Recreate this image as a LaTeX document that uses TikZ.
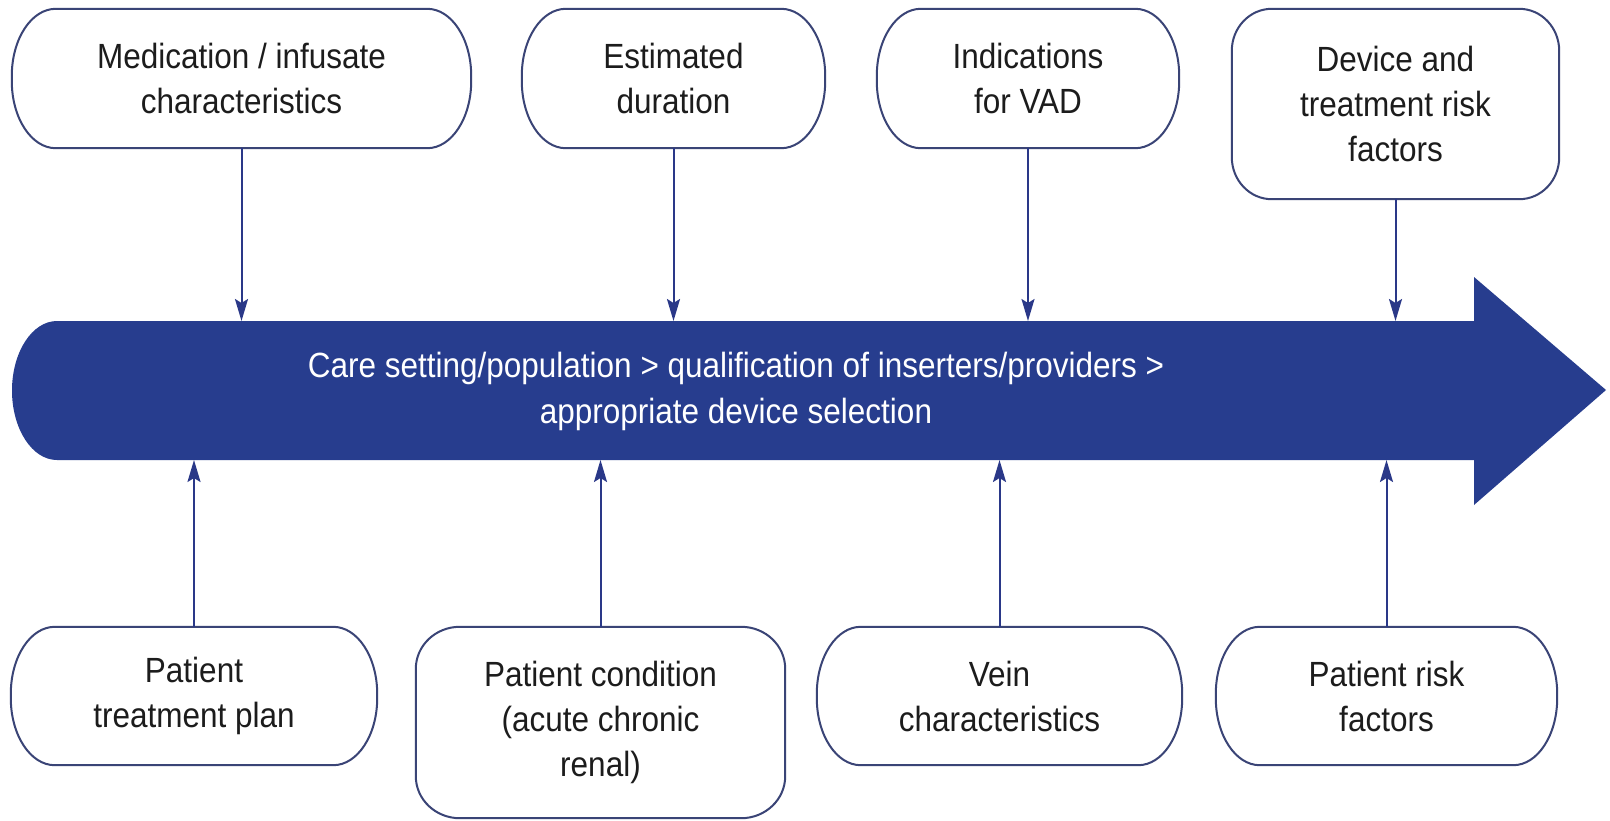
\documentclass[tikz,border=0pt]{standalone}
\usepackage{fontspec}
\setmainfont{Liberation Sans}[FakeStretch=0.9]
\usetikzlibrary{arrows.meta}
\definecolor{arrowblue}{RGB}{39,61,142}
\definecolor{boxblue}{RGB}{58,68,118}
\definecolor{connblue}{RGB}{42,56,136}
\definecolor{txtgray}{RGB}{28,28,28}
\tikzset{
  lbl/.style={rectangle, draw=none, inner sep=0pt, align=center, text=txtgray,
    font=\fontsize{35pt}{45pt}\selectfont},
  boxline/.style={draw=boxblue, line width=2pt, fill=white},
  conn/.style={draw=connblue, line width=2pt,
    -{Stealth[length=22pt, width=13pt, inset=4pt]}},
  maintext/.style={align=center, text=white, inner sep=0pt,
    font=\fontsize{35pt}{46pt}\selectfont}
}
\newcommand{\ebox}[3]{%
  \path[boxline] ([xshift=#2]#1.north west) -- ([xshift=-#2]#1.north east)
    arc[start angle=90,end angle=0,x radius=#2,y radius=#3]
    -- ([yshift=#3]#1.south east)
    arc[start angle=0,end angle=-90,x radius=#2,y radius=#3]
    -- ([xshift=#2]#1.south west)
    arc[start angle=270,end angle=180,x radius=#2,y radius=#3]
    -- ([yshift=-#3]#1.north west)
    arc[start angle=180,end angle=90,x radius=#2,y radius=#3] -- cycle;}
\begin{document}
\begin{tikzpicture}[x=1pt,y=1pt]
\useasboundingbox[fill=white] (0,0) rectangle (1610,-820);

% main arrow
\fill[arrowblue] (1474,-321) -- (57,-321)
  arc[start angle=90,end angle=270,x radius=45pt,y radius=69.5pt]
  -- (1474,-460) -- (1474,-505) -- (1606,-390) -- (1474,-277) -- cycle;
\coordinate (atop) at (0,-321);
\coordinate (abot) at (0,-460);
\node[maintext] (main) at (736,-391)
  {Care setting/population > qualification of inserters/providers >\\appropriate device selection};

% top boxes
\node[lbl, minimum width=459pt, minimum height=139pt] (med) at (241.5,-78.5) {};
\node[lbl, minimum width=303pt, minimum height=139pt] (dur) at (673.5,-78.5) {};
\node[lbl, minimum width=302pt, minimum height=139pt] (ind) at (1028,-78.5) {};
\node[lbl, minimum width=327pt, minimum height=190pt] (dev) at (1395.5,-104) {};
% bottom boxes
\node[lbl, minimum width=366pt, minimum height=138pt] (plan) at (194,-696) {};
\node[lbl, minimum width=369pt, minimum height=191pt] (cond) at (600.5,-722.5) {};
\node[lbl, minimum width=365pt, minimum height=138pt] (vein) at (999.5,-696) {};
\node[lbl, minimum width=341pt, minimum height=138pt] (risk) at (1386.5,-696) {};

\ebox{med}{44pt}{67pt}
\ebox{dur}{44pt}{67pt}
\ebox{ind}{44pt}{67pt}
\ebox{dev}{40pt}{42pt}
\ebox{plan}{44pt}{67pt}
\ebox{cond}{44pt}{42pt}
\ebox{vein}{44pt}{67pt}
\ebox{risk}{44pt}{67pt}

\node[lbl] (medt) at (med) {Medication / infusate\\characteristics};
\node[lbl] (durt) at (dur) {Estimated\\duration};
\node[lbl] (indt) at (ind) {Indications\\for VAD};
\node[lbl] (devt) at (dev) {Device and\\treatment risk\\factors};
\node[lbl] (plant) at (plan) {Patient\\treatment plan};
\node[lbl] (condt) at (cond) {Patient condition\\(acute chronic\\renal)};
\node[lbl] (veint) at (vein) {Vein\\characteristics};
\node[lbl] (riskt) at (risk) {Patient risk\\factors};

% connectors
\draw[conn] (med.south) -- (med.south |- atop);
\draw[conn] (dur.south) -- (dur.south |- atop);
\draw[conn] (ind.south) -- (ind.south |- atop);
\draw[conn] (dev.south) -- (dev.south |- atop);
\draw[conn] (plan.north) -- (plan.north |- abot);
\draw[conn] (cond.north) -- (cond.north |- abot);
\draw[conn] (vein.north) -- (vein.north |- abot);
\draw[conn] (risk.north) -- (risk.north |- abot);
\end{tikzpicture}
\end{document}
